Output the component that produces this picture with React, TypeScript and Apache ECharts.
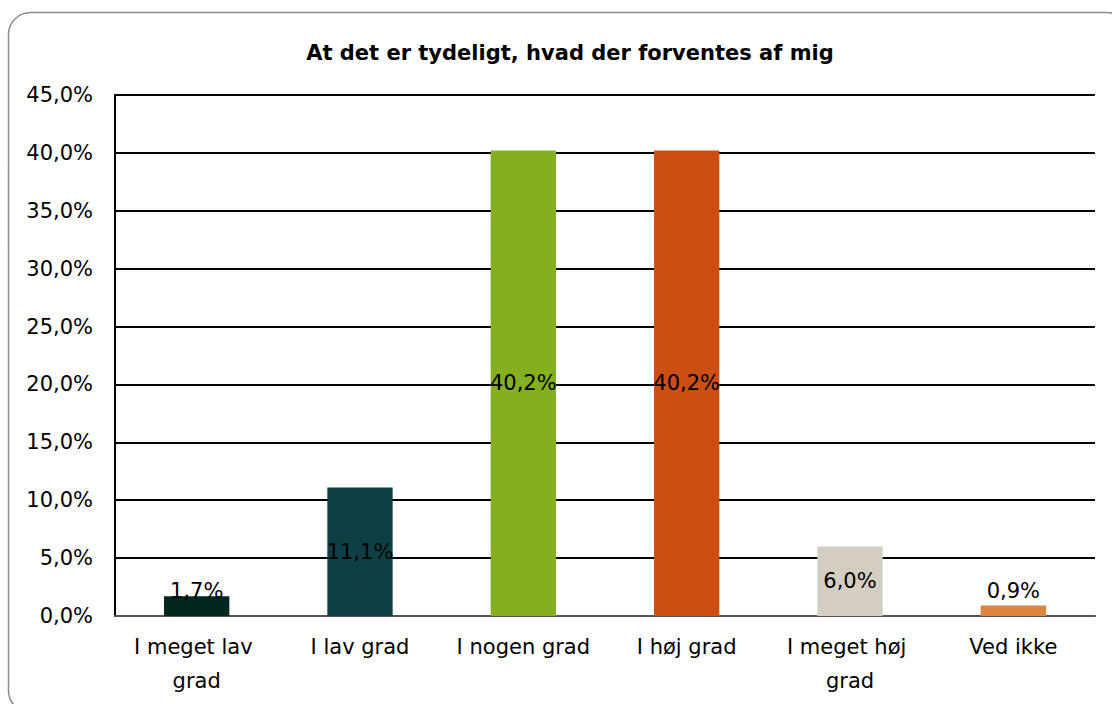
import React, { useEffect, useRef } from "react";
import * as echarts from "echarts";

const title = "At det er tydeligt, hvad der forventes af mig";
const categories = ["I meget lav grad", "I lav grad", "I nogen grad", "I høj grad", "I meget høj grad", "Ved ikke"];
const values = [1.7, 11.1, 40.2, 40.2, 6.0, 0.9];
const barColors = ["#032620", "#0E3F44", "#84AF20", "#CB4E12", "#D4CEC2", "#DB853E"];
const yTicks = [0, 5, 10, 15, 20, 25, 30, 35, 40, 45];

const FONT = "DejaVu Sans";
const fmt = (v: number) => v.toFixed(1).replace(".", ",") + "%";

export default function App() {
  const ref = useRef<HTMLDivElement>(null);
  useEffect(() => {
    if (!ref.current) return;
    const chart = echarts.init(ref.current, null, { renderer: "svg" });
    chart.setOption({
      animation: false,
      backgroundColor: "#ffffff",
      title: {
        text: title,
        left: 565,
        top: 37,
        textAlign: "center",
        textStyle: { fontFamily: FONT, fontSize: 21, fontWeight: "bold", color: "#000" },
      },
      graphic: [
        {
          type: "rect",
          shape: { x: 8.5, y: 12.5, width: 1120, height: 700, r: 22 },
          style: { fill: "none", stroke: "#8c8c8c", lineWidth: 1.5 },
          silent: true,
        },
      ],
      grid: { left: 115, right: 17, top: 95, bottom: 88 },
      xAxis: {
        type: "category",
        data: categories,
        axisLine: { show: true, lineStyle: { color: "#555", width: 2 } },
        axisTick: { show: false },
        axisLabel: {
          interval: 0,
          fontFamily: FONT,
          fontSize: 21,
          color: "#000",
          margin: 14,
          width: 150,
          overflow: "break",
          lineHeight: 34,
        },
      },
      yAxis: {
        type: "value",
        min: 0,
        max: 45,
        interval: 5,
        axisLine: { show: true, lineStyle: { color: "#000", width: 2 } },
        axisTick: { show: false },
        splitLine: { show: true, lineStyle: { color: "#000", width: 2 } },
        axisLabel: {
          fontFamily: FONT,
          fontSize: 21,
          color: "#000",
          margin: 22,
          formatter: (v: number) => (yTicks.includes(v) ? fmt(v) : ""),
        },
      },
      series: [
        {
          type: "bar",
          barWidth: "40%",
          data: values.map((v, i) => ({
            value: v,
            itemStyle: { color: barColors[i] },
            label:
              v < 3
                ? { position: "insideBottom", distance: 15 }
                : { position: "inside" },
          })),
          label: {
            show: true,
            fontFamily: FONT,
            fontSize: 21,
            color: "#000",
            formatter: (p: any) => fmt(p.value),
          },
        },
      ],
    });
    return () => chart.dispose();
  }, []);
  return (
    <div
      ref={ref}
      style={{ position: "absolute", left: 0, top: 0, width: 1112, height: 704 }}
    />
  );
}
